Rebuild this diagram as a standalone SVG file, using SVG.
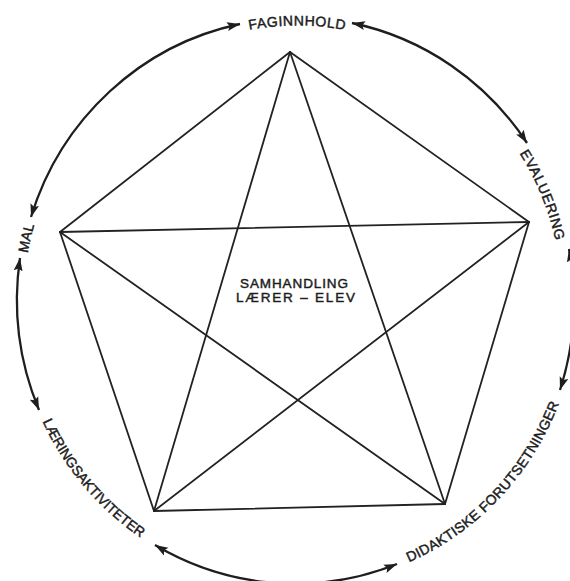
<svg xmlns="http://www.w3.org/2000/svg" width="570" height="581" viewBox="0 0 570 581">
  <style>
    .lbl { font-family: "Liberation Sans", Arial, sans-serif; font-size: 14px; fill: #1c1c1c; stroke: #1c1c1c; stroke-width: 0.45; }
    .ctr { font-family: "Liberation Sans", Arial, sans-serif; font-size: 13.5px; fill: #1c1c1c; stroke: #1c1c1c; stroke-width: 0.45; }
    .arc { fill: none; stroke: #1e1e1e; stroke-width: 2.3; }
    .edge { stroke: #222; stroke-width: 1.8; fill: none; stroke-linecap: round; }
  </style>
  <defs>
    <marker id="ah" viewBox="0 0 13 10" refX="13" refY="5" markerWidth="13" markerHeight="10" markerUnits="userSpaceOnUse" orient="auto-start-reverse">
      <path d="M0,0.5 L13,5 L0,9.5 L2.5,5 z" fill="#1e1e1e"/>
    </marker>
    <path id="p-fag" d="M162.25,62.3 A269.5,274.5 0 0 1 431.75,62.3"/>
    <path id="p-eval" d="M456.85,84.65 A265,270 0 0 1 559.97,333.37"/>
    <path id="p-mal" d="M26.21,335.33 A273,278 0 0 1 67.27,149.81"/>
    <path id="p-did" d="M326.37,584.43 A281,286 0 0 0 577.31,319.95"/>
    <path id="p-laer" d="M17.44,328.9 A281,286 0 0 0 228.07,577.26"/>
  </defs>
  <rect width="570" height="581" fill="#ffffff"/>

  <g id="pentagram">
    <line class="edge" x1="290" y1="52" x2="529" y2="222"/>
    <line class="edge" x1="529" y1="222" x2="445" y2="504"/>
    <line class="edge" x1="445" y1="504" x2="154" y2="511"/>
    <line class="edge" x1="154" y1="511" x2="60" y2="232"/>
    <line class="edge" x1="60" y1="232" x2="290" y2="52"/>
    <line class="edge" x1="290" y1="52" x2="445" y2="504"/>
    <line class="edge" x1="290" y1="52" x2="154" y2="511"/>
    <line class="edge" x1="60" y1="232" x2="529" y2="222"/>
    <line class="edge" x1="60" y1="232" x2="445" y2="504"/>
    <line class="edge" x1="529" y1="222" x2="154" y2="511"/>
  </g>

  <g id="connectors">
    <path class="arc" d="M31,217 A278,283 0 0 1 240,24" marker-start="url(#ah)" marker-end="url(#ah)"/>
    <path class="arc" d="M352,23 A278,283 0 0 1 527,143" marker-start="url(#ah)" marker-end="url(#ah)"/>
    <path class="arc" d="M569,249 A278,283 0 0 1 560,390" marker-start="url(#ah)" marker-end="url(#ah)"/>
    <path class="arc" d="M397,564 A278,283 0 0 1 155,545" marker-start="url(#ah)" marker-end="url(#ah)"/>
    <path class="arc" d="M20,258 A278,283 0 0 0 39,410" marker-start="url(#ah)" marker-end="url(#ah)"/>
  </g>

  <g id="node-faginnhold">
    <text class="lbl" text-anchor="middle"><textPath href="#p-fag" startOffset="50%" textLength="96" lengthAdjust="spacing">FAGINNHOLD</textPath></text>
  </g>
  <g id="node-evaluering">
    <text class="lbl" text-anchor="middle"><textPath href="#p-eval" startOffset="50%" textLength="95" lengthAdjust="spacing">EVALUERING</textPath></text>
  </g>
  <g id="node-didaktiske">
    <text class="lbl" text-anchor="middle"><textPath href="#p-did" startOffset="50%" textLength="224" lengthAdjust="spacing">DIDAKTISKE FORUTSETNINGER</textPath></text>
  </g>
  <g id="node-laeringsaktiviteter">
    <text class="lbl" text-anchor="middle"><textPath href="#p-laer" startOffset="50%" textLength="154" lengthAdjust="spacingAndGlyphs">LÆRINGSAKTIVITETER</textPath></text>
  </g>
  <g id="node-mal">
    <text class="lbl" text-anchor="middle"><textPath href="#p-mal" startOffset="50%" textLength="29" lengthAdjust="spacing">MAL</textPath></text>
  </g>

  <g id="node-center">
    <text class="ctr" x="294" y="287.5" text-anchor="middle" textLength="108" lengthAdjust="spacing">SAMHANDLING</text>
    <text class="ctr" x="295.5" y="302" text-anchor="middle" textLength="119" lengthAdjust="spacing">LÆRER – ELEV</text>
  </g>
</svg>
